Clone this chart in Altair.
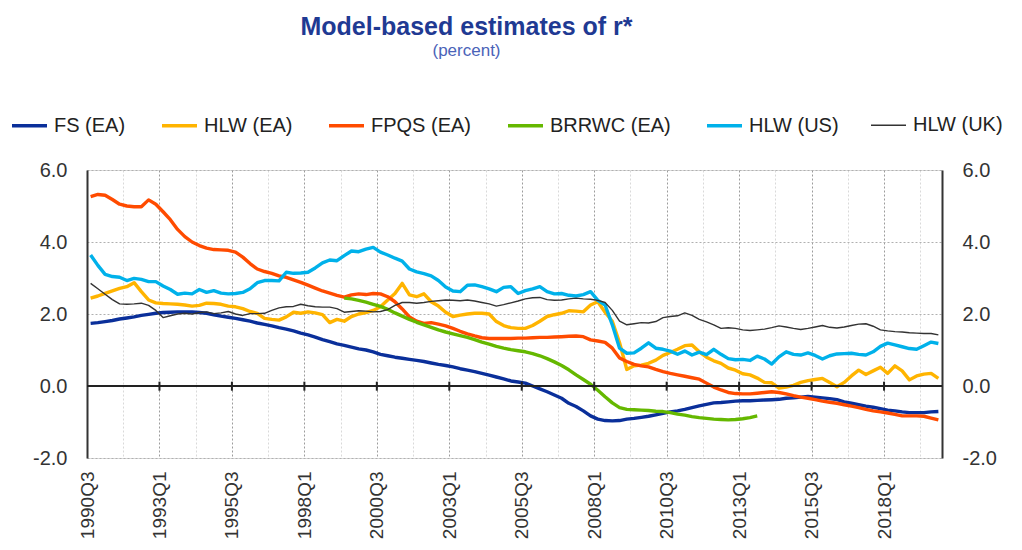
import json
import altair as alt
import pandas as pd

# ---------------- data ----------------
start_year, start_q, n_quarters = 1990, 3, 118
quarters = []
y, q = start_year, start_q
for _ in range(n_quarters):
    quarters.append(f"{y}Q{q}")
    q += 1
    if q == 5:
        q, y = 1, y + 1

tick_labels = ["1990Q3", "1993Q1", "1995Q3", "1998Q1", "2000Q3", "2003Q1",
               "2005Q3", "2008Q1", "2010Q3", "2013Q1", "2015Q3", "2018Q1"]

series_names = ["FS (EA)", "HLW (EA)", "FPQS (EA)", "BRRWC (EA)", "HLW (US)", "HLW (UK)"]

fs_ea = [1.74, 1.76, 1.79, 1.82, 1.86, 1.89, 1.92, 1.96, 1.99, 2.02,
         2.04, 2.05, 2.06, 2.06, 2.06, 2.04, 2.02, 1.98, 1.94, 1.91,
         1.88, 1.84, 1.80, 1.75, 1.71, 1.67, 1.62, 1.58, 1.53, 1.47,
         1.42, 1.36, 1.29, 1.23, 1.17, 1.13, 1.08, 1.03, 1.00, 0.95,
         0.88, 0.84, 0.80, 0.77, 0.74, 0.71, 0.68, 0.64, 0.60, 0.57,
         0.53, 0.48, 0.44, 0.40, 0.35, 0.30, 0.25, 0.20, 0.14, 0.11,
         0.08, 0.00, -0.08, -0.16, -0.25, -0.34, -0.48, -0.57, -0.69, -0.83,
         -0.92, -0.96, -0.97, -0.96, -0.92, -0.90, -0.87, -0.84, -0.80, -0.76,
         -0.72, -0.69, -0.65, -0.60, -0.55, -0.51, -0.47, -0.46, -0.44, -0.42,
         -0.41, -0.41, -0.40, -0.39, -0.38, -0.37, -0.34, -0.33, -0.31, -0.29,
         -0.31, -0.33, -0.35, -0.38, -0.44, -0.48, -0.52, -0.56, -0.59, -0.63,
         -0.67, -0.69, -0.72, -0.74, -0.74, -0.74, -0.72, -0.71]

hlw_ea = [2.44, 2.50, 2.57, 2.64, 2.71, 2.76, 2.87, 2.62, 2.39, 2.31,
          2.29, 2.28, 2.27, 2.25, 2.22, 2.24, 2.30, 2.29, 2.27, 2.22,
          2.20, 2.15, 2.07, 2.02, 1.88, 1.85, 1.83, 1.92, 2.05, 2.02,
          2.06, 2.03, 1.98, 1.76, 1.85, 1.80, 1.93, 2.00, 2.04, 2.10,
          2.20, 2.39, 2.57, 2.85, 2.53, 2.48, 2.56, 2.34, 2.22, 2.05,
          1.93, 1.97, 2.00, 2.02, 2.02, 2.00, 1.79, 1.68, 1.62, 1.60,
          1.60, 1.68, 1.80, 1.93, 1.98, 2.02, 2.09, 2.08, 2.06, 2.25,
          2.34, 2.05, 1.80, 1.20, 0.46, 0.56, 0.58, 0.63, 0.72, 0.85,
          0.93, 1.02, 1.12, 1.14, 0.95, 0.80, 0.70, 0.63, 0.50, 0.44,
          0.34, 0.31, 0.22, 0.10, 0.09, -0.06, -0.03, 0.02, 0.10, 0.15,
          0.18, 0.21, 0.10, -0.02, 0.10, 0.28, 0.44, 0.32, 0.42, 0.52,
          0.35, 0.56, 0.42, 0.17, 0.28, 0.33, 0.35, 0.21]

fpqs_ea = [5.26, 5.32, 5.30, 5.18, 5.05, 5.00, 4.98, 4.98, 5.17, 5.05,
           4.84, 4.62, 4.35, 4.15, 4.00, 3.90, 3.83, 3.79, 3.78, 3.77,
           3.72, 3.58, 3.40, 3.25, 3.18, 3.13, 3.06, 3.02, 2.95, 2.88,
           2.80, 2.72, 2.64, 2.58, 2.52, 2.47, 2.53, 2.56, 2.54, 2.57,
           2.56, 2.48, 2.34, 2.14, 1.92, 1.80, 1.74, 1.76, 1.72, 1.67,
           1.60, 1.52, 1.45, 1.39, 1.34, 1.32, 1.32, 1.32, 1.32, 1.33,
           1.33, 1.34, 1.35, 1.35, 1.36, 1.37, 1.38, 1.39, 1.37, 1.28,
           1.25, 1.21, 1.05, 0.78, 0.68, 0.60, 0.56, 0.53, 0.46, 0.40,
           0.35, 0.31, 0.27, 0.23, 0.19, 0.08, -0.03, -0.11, -0.18, -0.21,
           -0.22, -0.22, -0.20, -0.18, -0.16, -0.18, -0.22, -0.27, -0.31, -0.34,
           -0.38, -0.42, -0.45, -0.48, -0.52, -0.56, -0.60, -0.65, -0.69, -0.72,
           -0.75, -0.79, -0.83, -0.83, -0.83, -0.84, -0.89, -0.94]

brrwc_ea = [None] * 35 + [
    2.44, 2.42, 2.38, 2.33, 2.27,
    2.21, 2.13, 2.03, 1.94, 1.85, 1.77, 1.70, 1.63, 1.56, 1.50,
    1.45, 1.40, 1.35, 1.29, 1.22, 1.16, 1.10, 1.05, 1.01, 0.98,
    0.95, 0.90, 0.84, 0.76, 0.67, 0.57, 0.45, 0.31, 0.18, 0.05,
    -0.12, -0.30, -0.47, -0.60, -0.65, -0.66, -0.67, -0.68, -0.70, -0.71,
    -0.74, -0.78, -0.81, -0.85, -0.88, -0.90, -0.92, -0.93, -0.94, -0.93,
    -0.91, -0.88, -0.83] + [None] * 25

hlw_us = [3.64, 3.35, 3.10, 3.04, 3.02, 2.93, 2.99, 2.96, 2.90, 2.90,
          2.78, 2.68, 2.55, 2.58, 2.56, 2.68, 2.60, 2.65, 2.58, 2.56,
          2.57, 2.60, 2.70, 2.87, 2.93, 2.93, 2.92, 3.16, 3.13, 3.14,
          3.16, 3.28, 3.42, 3.50, 3.48, 3.62, 3.75, 3.73, 3.80, 3.85,
          3.72, 3.64, 3.55, 3.47, 3.25, 3.17, 3.12, 3.06, 2.93, 2.75,
          2.64, 2.62, 2.80, 2.81, 2.76, 2.70, 2.62, 2.74, 2.76, 2.57,
          2.65, 2.70, 2.76, 2.62, 2.56, 2.57, 2.52, 2.50, 2.54, 2.62,
          2.38, 2.25, 1.70, 1.05, 0.91, 0.92, 1.05, 1.20, 1.05, 1.02,
          0.97, 0.88, 0.97, 0.86, 0.94, 0.87, 1.02, 0.88, 0.76, 0.73,
          0.74, 0.71, 0.83, 0.75, 0.61, 0.81, 0.95, 0.88, 0.86, 0.92,
          0.85, 0.75, 0.84, 0.89, 0.90, 0.91, 0.88, 0.86, 0.95, 1.10,
          1.19, 1.14, 1.09, 1.04, 1.02, 1.12, 1.22, 1.18]

hlw_uk = [2.85, 2.70, 2.55, 2.40, 2.28, 2.27, 2.28, 2.30, 2.24, 2.10,
          1.90, 1.95, 2.00, 2.02, 2.00, 2.04, 2.06, 2.01, 2.03, 2.07,
          2.00, 1.96, 2.01, 2.01, 2.02, 2.10, 2.17, 2.20, 2.21, 2.27,
          2.23, 2.20, 2.19, 2.19, 2.15, 2.05, 2.07, 2.09, 2.08, 2.06,
          2.07, 2.12, 2.24, 2.32, 2.32, 2.30, 2.32, 2.35, 2.37, 2.39,
          2.38, 2.37, 2.39, 2.36, 2.32, 2.28, 2.22, 2.26, 2.31, 2.36,
          2.42, 2.45, 2.46, 2.40, 2.38, 2.39, 2.42, 2.44, 2.42, 2.41,
          2.38, 2.32, 2.10, 1.80, 1.70, 1.73, 1.76, 1.75, 1.79, 1.90,
          1.93, 1.95, 2.03, 1.96, 1.85, 1.78, 1.70, 1.60, 1.62, 1.60,
          1.56, 1.54, 1.56, 1.58, 1.62, 1.67, 1.64, 1.60, 1.57, 1.60,
          1.64, 1.68, 1.63, 1.61, 1.64, 1.68, 1.72, 1.73, 1.66, 1.56,
          1.53, 1.51, 1.50, 1.48, 1.47, 1.46, 1.46, 1.42]

# ---------------- build table ----------------
all_series = [fs_ea, hlw_ea, fpqs_ea, brrwc_ea, hlw_us, hlw_uk]
rows = []
for name, vals in zip(series_names, all_series):
    for i, v in enumerate(vals):
        if v is not None:
            rows.append({"series": name, "quarter": quarters[i], "pos": i + 0.5, "value": v})
df = pd.DataFrame(rows)

colors = ["#0A2F9A", "#FFB400", "#FF4B00", "#65B800", "#00B1EA", "#333333"]
widths = [3.4, 3.4, 3.4, 3.4, 3.4, 1.4]

tick_pos = pd.DataFrame({"pos": [10 * k for k in range(1, len(tick_labels))]})

label_expr = ("datum.value % 10 === 0 ? " + json.dumps(tick_labels)
              + "[datum.value / 10] : ''")
y_label_expr = "replace(format(datum.value, '.1f'), '\u2212', '-')"

FONT = "Liberation Sans"
TXT = "#333333"

x_scale = alt.Scale(domain=[0, n_quarters], nice=False, zero=False)
x_axis = alt.Axis(
    values=list(range(0, n_quarters + 1, 5)),
    labelExpr=label_expr,
    labelAngle=-90,
    labelFontSize=19,
    labelColor=TXT,
    labelPadding=13,
    labelFont=FONT,
    labelOverlap=False,
    grid=True,
    gridColor={"condition": {"test": "datum.value % 10 === 0", "value": "#9c9c9c"},
               "value": "#d9d9d9"},
    gridDash=[2, 2],
    gridWidth=1,
    domain=False,
    ticks=False,
    title=None,
)

y_scale = alt.Scale(domain=[-2, 6], nice=False, zero=False)
y_vals = [-2, 0, 2, 4, 6]

lines = alt.Chart(df).mark_line(strokeJoin="round").encode(
    x=alt.X("pos:Q", scale=x_scale, axis=x_axis),
    y=alt.Y(
        "value:Q",
        scale=y_scale,
        axis=alt.Axis(
            orient="left", values=y_vals, labelExpr=y_label_expr, labelFontSize=20,
            labelColor=TXT, labelFont=FONT, labelPadding=20, ticks=False,
            domain=True, domainColor="#333333", domainWidth=2,
            grid=True, gridColor="#b0b0b0", gridDash=[2, 2], title=None,
        ),
    ),
    color=alt.Color(
        "series:N",
        scale=alt.Scale(domain=series_names, range=colors),
        sort=series_names,
        legend=alt.Legend(
            orient="none", legendX=-77, legendY=-64, direction="horizontal",
            columns=6, columnPadding=29, symbolType="stroke", symbolSize=1225,
            symbolStrokeWidth=4, labelFontSize=20, labelColor="#222222",
            labelFont=FONT, labelOffset=5, title=None,
        ),
    ),
    strokeWidth=alt.StrokeWidth(
        "series:N",
        scale=alt.Scale(type="ordinal", domain=series_names, range=widths),
        legend=None,
    ),
)

zero_line = alt.Chart(pd.DataFrame({"value": [0]})).mark_rule(
    color="#222222", strokeWidth=2
).encode(
    y=alt.Y(
        "value:Q",
        scale=y_scale,
        axis=alt.Axis(
            orient="right", values=y_vals, labelExpr=y_label_expr, labelFontSize=20,
            labelColor=TXT, labelFont=FONT, labelPadding=20, ticks=False,
            domain=True, domainColor="#333333", domainWidth=2, grid=False,
            title=None,
        ),
    )
)

zero_ticks = alt.Chart(tick_pos).mark_rule(color="#222222", strokeWidth=2).encode(
    x=alt.X("pos:Q", scale=x_scale, axis=x_axis),
    y=alt.YDatum(-0.13, axis=None),
    y2=alt.Y2Datum(0.12),
)

chart = (
    alt.layer(lines, zero_line, zero_ticks)
    .resolve_axis(y="independent")
    .properties(
        width=855,
        height=288,
        autosize=alt.AutoSizeParams(type="none"),
        padding={"left": 79, "top": 162, "right": 70, "bottom": 84},
        title=alt.Title(
            "Model-based estimates of r*",
            subtitle="(percent)",
            font=FONT,
            fontSize=25,
            fontWeight="bold",
            color="#1F3A93",
            subtitleFont=FONT,
            subtitleFontSize=17,
            subtitleColor="#4A63B8",
            subtitlePadding=3,
            anchor="middle",
            frame="group",
            dx=-48,
            offset=47,
        ),
    )
    .configure_view(stroke=None)
    .configure(font=FONT)
)

chart.save("out.html", embed_options={"renderer": "svg", "actions": False})
